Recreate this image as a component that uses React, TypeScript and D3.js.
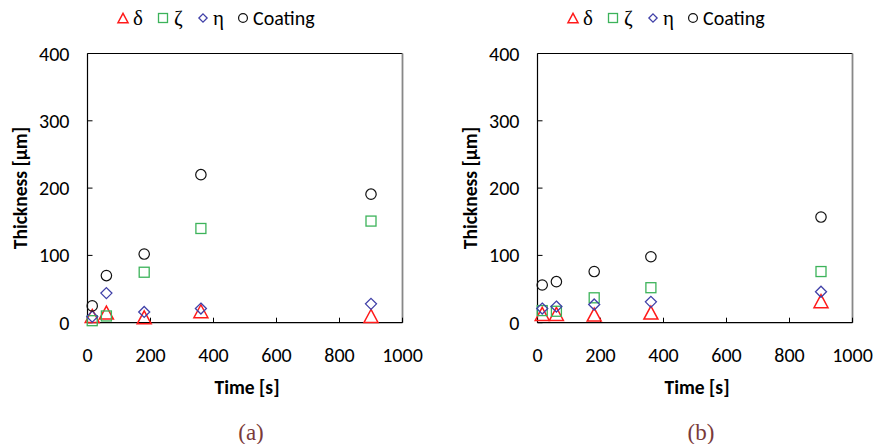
import * as d3 from "d3";

const times = [15, 60, 180, 360, 900];
// panel (a)
const deltaA = [10, 15, 8, 17, 10];
const zetaA = [3, 10, 75, 140, 151];
const etaA = [9, 44, 16, 21, 28];
const coatingA = [25, 70, 102, 220, 191];
// panel (b)
const deltaB = [13, 13, 12, 15, 32];
const zetaB = [18, 17, 37, 52, 76];
const etaB = [21, 24, 27, 31, 46];
const coatingB = [56, 61, 76, 98, 157];

const xTicks = [0, 200, 400, 600, 800, 1000];
const yTicks = [0, 100, 200, 300, 400];

const RED = "#ff1a1a";
const GREEN = "#3cb35a";
const BLUE = "#4040a8";
const BLACK = "#111";

const SANS = "Carlito, 'Open Sans', 'Liberation Sans', sans-serif";
const SERIF = "'Liberation Serif', 'DejaVu Serif', serif";

type Shape = "tri" | "sq" | "dia" | "circ";

function Marker({ shape, x, y, s = 1 }: { shape: Shape; x: number; y: number; s?: number }) {
  if (shape === "tri") {
    const w = 7 * s, h = 6.5 * s;
    return <path d={`M${x},${y - h}L${x + w},${y + h}L${x - w},${y + h}Z`} fill="none" stroke={RED} strokeWidth={1.5} />;
  }
  if (shape === "sq") {
    const r = 5 * s;
    return <rect x={x - r} y={y - r} width={2 * r} height={2 * r} fill="none" stroke={GREEN} strokeWidth={1.3} />;
  }
  if (shape === "dia") {
    const r = 5.5 * s;
    return <path d={`M${x},${y - r}L${x + r},${y}L${x},${y + r}L${x - r},${y}Z`} fill="none" stroke={BLUE} strokeWidth={1.3} />;
  }
  return <circle cx={x} cy={y} r={5.2 * s} fill="none" stroke={BLACK} strokeWidth={1.2} />;
}

function Panel({ ox, delta, zeta, eta, coating, caption }: {
  ox: number; delta: number[]; zeta: number[]; eta: number[]; coating: number[]; caption: string;
}) {
  const x = d3.scaleLinear().domain([0, 1000]).range([ox + 87.5, ox + 402.5]);
  const y = d3.scaleLinear().domain([0, 400]).range([322.7, 53.5]);
  const [x0, x1] = x.range();
  const [y0, y1] = y.range();
  const series: { shape: Shape; vals: number[] }[] = [
    { shape: "tri", vals: delta },
    { shape: "sq", vals: zeta },
    { shape: "dia", vals: eta },
    { shape: "circ", vals: coating },
  ];
  const lx = ox + 118;
  return (
    <g>
      {/* legend */}
      <g>
        <Marker shape="tri" x={lx + 5} y={18} s={0.72} />
        <text x={lx + 15} y={25} fontFamily={SERIF} fontSize={21}>δ</text>
        <Marker shape="sq" x={lx + 45} y={18} s={0.9} />
        <text x={lx + 56} y={25} fontFamily={SERIF} fontSize={21}>ζ</text>
        <Marker shape="dia" x={lx + 85} y={18} s={0.75} />
        <text x={lx + 95} y={25} fontFamily={SERIF} fontSize={21}>η</text>
        <Marker shape="circ" x={lx + 125} y={18} s={0.85} />
        <text x={lx + 135} y={25} fontFamily={SANS} fontSize={20}>Coating</text>
      </g>
      {/* frame */}
      <line x1={x0} x2={x1} y1={y1} y2={y1} stroke="#000" strokeWidth={1.2} />
      <line x1={x1} x2={x1} y1={y1} y2={y0} stroke="#888" strokeWidth={1.8} />
      <line x1={x0} x2={x0} y1={y1} y2={y0} stroke="#000" strokeWidth={1.2} />
      <line x1={x0} x2={x1} y1={y0} y2={y0} stroke="#000" strokeWidth={1.2} />
      {/* ticks */}
      {yTicks.map(t => (
        <g key={"y" + t}>
          <line x1={x0} x2={x0 + 5} y1={y(t)} y2={y(t)} stroke="#000" />
          <text x={x0 - 18} y={y(t) + 7} textAnchor="end" fontFamily={SANS} fontSize={20}>{t}</text>
        </g>
      ))}
      {xTicks.map(t => (
        <g key={"x" + t}>
          <line x1={x(t)} x2={x(t)} y1={y0} y2={y0 - 5} stroke="#000" />
          <text x={x(t)} y={y0 + 39} textAnchor="middle" fontFamily={SANS} fontSize={20}>{t}</text>
        </g>
      ))}
      {/* titles */}
      <text transform={`translate(${ox + 27},${(y0 + y1) / 2}) rotate(-90)`} textAnchor="middle"
        fontFamily={SANS} fontSize={19.5} fontWeight="bold">Thickness [μm]</text>
      <text x={(x0 + x1) / 2 + 2} y={y0 + 71} textAnchor="middle" fontFamily={SANS} fontSize={19.5} fontWeight="bold">Time [s]</text>
      <text x={ox + 251} y={440} textAnchor="middle" fontFamily={SERIF} fontSize={23} fill="#7a3a3a">{caption}</text>
      {/* points */}
      {series.map(sr => sr.vals.map((v, i) => (
        <Marker key={sr.shape + i} shape={sr.shape} x={x(times[i])} y={y(v)} />
      )))}
    </g>
  );
}

export default function App() {
  return (
    <svg width={873} height={444} style={{ position: "absolute", left: 0, top: 0, background: "#fff" }}>
      <rect width={873} height={444} fill="#fff" />
      <Panel ox={0} delta={deltaA} zeta={zetaA} eta={etaA} coating={coatingA} caption="(a)" />
      <Panel ox={450} delta={deltaB} zeta={zetaB} eta={etaB} coating={coatingB} caption="(b)" />
    </svg>
  );
}
